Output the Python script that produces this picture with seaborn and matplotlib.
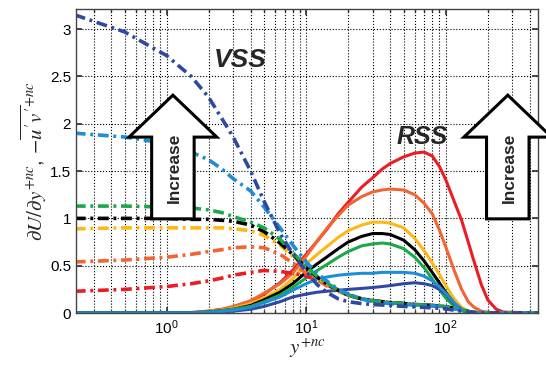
import matplotlib
matplotlib.use("Agg")
import matplotlib.pyplot as plt
from matplotlib.patches import FancyArrow
import numpy as np
import pandas as pd
import seaborn as sns

###################################
# colours of the seven cases
red = "#ec1c24"
orange = "#f26531"
gold = "#fdb813"
black = "#000000"
green = "#1aa94a"
lblue = "#1c8dd6"
dblue = "#2e4aa0"
####################################

# common y+nc sampling
yp = [0.22, 0.5, 1, 1.5, 2, 2.5, 3, 4, 5, 6.5, 8, 10, 12, 14, 17, 20, 25, 30,
      35, 40, 50, 60, 70, 80, 90, 100, 115, 130, 145, 160, 180, 200, 230, 260, 460]

# RSS  (-u'v'+nc), solid
rss_red = [0, 0, 0, 0.005, 0.02, 0.04, 0.06, 0.12, 0.20, 0.32, 0.45, 0.62, 0.76,
           0.88, 1.05, 1.17, 1.33, 1.43, 1.52, 1.58, 1.65, 1.69, 1.70, 1.66, 1.55,
           1.41, 1.18, 0.98, 0.75, 0.54, 0.30, 0.14, 0.04, 0.01, 0]
rss_orange = [0, 0, 0, 0.005, 0.02, 0.04, 0.07, 0.13, 0.21, 0.31, 0.42, 0.60, 0.76,
              0.89, 1.03, 1.14, 1.23, 1.28, 1.30, 1.31, 1.30, 1.25, 1.16, 1.05, 0.88,
              0.70, 0.45, 0.25, 0.12, 0.06, 0.02, 0.01, 0, 0, 0]
rss_gold = [0, 0, 0, 0.004, 0.015, 0.03, 0.05, 0.10, 0.16, 0.25, 0.36, 0.52, 0.62,
            0.70, 0.80, 0.87, 0.93, 0.96, 0.96, 0.95, 0.90, 0.79, 0.66, 0.53, 0.41,
            0.29, 0.15, 0.06, 0.02, 0.01, 0, 0, 0, 0, 0]
rss_black = [0, 0, 0, 0.003, 0.012, 0.025, 0.04, 0.08, 0.14, 0.22, 0.31, 0.43, 0.52,
             0.59, 0.68, 0.75, 0.81, 0.84, 0.84, 0.83, 0.77, 0.67, 0.55, 0.43, 0.32,
             0.22, 0.10, 0.03, 0.01, 0, 0, 0, 0, 0, 0]
rss_green = [0, 0, 0, 0.003, 0.012, 0.025, 0.04, 0.07, 0.12, 0.19, 0.27, 0.37, 0.45,
             0.51, 0.59, 0.65, 0.71, 0.73, 0.74, 0.73, 0.68, 0.59, 0.48, 0.36, 0.25,
             0.16, 0.07, 0.03, 0.01, 0, 0, 0, 0, 0, 0]
rss_lblue = [0, 0, 0, 0.002, 0.008, 0.018, 0.03, 0.06, 0.11, 0.17, 0.24, 0.31, 0.36,
             0.38, 0.40, 0.41, 0.42, 0.42, 0.43, 0.43, 0.43, 0.42, 0.39, 0.34, 0.28,
             0.21, 0.11, 0.04, 0.02, 0.01, 0, 0, 0, 0, 0]
rss_dblue = [0, 0, 0, 0.002, 0.006, 0.012, 0.02, 0.04, 0.07, 0.12, 0.17, 0.20, 0.22,
             0.23, 0.24, 0.25, 0.26, 0.27, 0.28, 0.29, 0.31, 0.32, 0.31, 0.29, 0.25,
             0.20, 0.10, 0.04, 0.01, 0, 0, 0, 0, 0, 0]

# VSS  (dU/dy+nc), dash-dot
vss_dblue = [3.15, 2.97, 2.72, 2.50, 2.28, 2.05, 1.86, 1.50, 1.18, 0.84, 0.63, 0.44,
             0.30, 0.22, 0.15, 0.12, 0.10, 0.09, 0.085, 0.08, 0.07, 0.065, 0.06,
             0.055, 0.05, 0.045, 0.03, 0.02, 0.01, 0.005, 0, 0, 0, 0, 0]
vss_lblue = [1.90, 1.86, 1.79, 1.70, 1.62, 1.52, 1.42, 1.29, 1.12, 0.90, 0.72, 0.54,
             0.42, 0.34, 0.25, 0.20, 0.15, 0.12, 0.11, 0.10, 0.09, 0.085, 0.08,
             0.075, 0.07, 0.06, 0.045, 0.03, 0.015, 0.005, 0, 0, 0, 0, 0]
vss_green = [1.13, 1.13, 1.12, 1.11, 1.09, 1.06, 1.02, 0.96, 0.90, 0.78, 0.64, 0.49,
             0.39, 0.32, 0.24, 0.19, 0.15, 0.13, 0.12, 0.11, 0.10, 0.09, 0.085,
             0.08, 0.075, 0.065, 0.05, 0.03, 0.015, 0.005, 0, 0, 0, 0, 0]
vss_black = [1.0, 1.0, 1.0, 0.99, 0.99, 0.98, 0.97, 0.93, 0.86, 0.74, 0.62, 0.48,
             0.38, 0.31, 0.24, 0.19, 0.15, 0.13, 0.12, 0.11, 0.10, 0.09, 0.085,
             0.08, 0.075, 0.065, 0.05, 0.03, 0.015, 0.005, 0, 0, 0, 0, 0]
vss_gold = [0.89, 0.90, 0.90, 0.90, 0.90, 0.90, 0.89, 0.87, 0.82, 0.72, 0.60, 0.47,
            0.38, 0.31, 0.24, 0.19, 0.15, 0.13, 0.12, 0.11, 0.10, 0.09, 0.085,
            0.08, 0.075, 0.065, 0.05, 0.03, 0.015, 0.005, 0, 0, 0, 0, 0]
vss_orange = [0.54, 0.56, 0.59, 0.62, 0.65, 0.67, 0.69, 0.70, 0.69, 0.62, 0.53, 0.42,
              0.35, 0.29, 0.23, 0.19, 0.15, 0.13, 0.12, 0.11, 0.10, 0.09, 0.085,
              0.08, 0.075, 0.065, 0.05, 0.03, 0.015, 0.005, 0, 0, 0, 0, 0]
vss_red = [0.23, 0.25, 0.28, 0.31, 0.34, 0.37, 0.40, 0.43, 0.45, 0.44, 0.42, 0.39,
           0.35, 0.30, 0.24, 0.19, 0.15, 0.13, 0.12, 0.11, 0.10, 0.09, 0.085,
           0.08, 0.075, 0.065, 0.05, 0.03, 0.015, 0.005, 0, 0, 0, 0, 0]

rss = [(rss_red, red), (rss_orange, orange), (rss_gold, gold),
       (rss_black, black), (rss_green, green), (rss_dblue, dblue),
       (rss_lblue, lblue)]
vss = [(vss_red, red), (vss_orange, orange), (vss_gold, gold),
       (vss_black, black), (vss_green, green), (vss_lblue, lblue),
       (vss_dblue, dblue)]

sns.set_theme(style="ticks")
plt.rcParams['font.family'] = ['Liberation Sans', 'DejaVu Sans']
plt.rcParams['mathtext.fontset'] = 'custom'
plt.rcParams['mathtext.rm'] = 'Liberation Sans'
plt.rcParams['mathtext.it'] = 'Liberation Sans:italic'

fig = plt.figure(figsize=(5.46, 3.67), dpi=100)
ax = fig.add_axes([0.139, 0.147, 0.846, 0.828])

for vals, c in rss:
    sns.lineplot(x=yp, y=vals, ax=ax, color=c, lw=2.2, sort=False)
for vals, c in vss:
    sns.lineplot(x=yp, y=vals, ax=ax, color=c, lw=2.6, sort=False,
                 linestyle=(0, (3, 1.3, 0.8, 1.3)))
for ln in ax.lines:
    ln.set_solid_joinstyle('round')

ax.set_xscale('log')
ax.set_xlim(0.224, 457)
ax.set_ylim(0, 3.21)
ax.set_yticks([0, 0.5, 1, 1.5, 2, 2.5, 3])
ax.set_yticklabels(['0', '0.5', '1', '1.5', '2', '2.5', '3'])
ax.grid(True, which='major', color='black', ls=':', lw=0.8)
ax.grid(True, which='minor', axis='x', color='black', ls=':', lw=0.8)
ax.tick_params(which='both', direction='in', top=True, right=True,
               labelsize=11, colors='#333333', labelcolor='black')
ax.tick_params(which='major', length=4)
ax.tick_params(which='minor', length=2)
for s in ax.spines.values():
    s.set_color('#444444')
    s.set_linewidth(1)

ax.set_xlabel(r'$y^{+nc}$', fontsize=15, math_fontfamily='stix', labelpad=0)
ax.set_ylabel(r"$\partial U/\partial y^{+nc}$, $-\overline{u'v'}^{+nc}$",
              fontsize=15, math_fontfamily='stix', labelpad=1)

# hollow "Increase" arrows
for xc in [0.210, 0.935]:
    ax.add_patch(FancyArrow(xc, 0.31, 0, 0.407, width=0.092, head_width=0.19,
                            head_length=0.138, length_includes_head=True,
                            fc='white', ec='black', lw=2.2,
                            transform=ax.transAxes, clip_on=False, zorder=5))
ax.text(0.213, 0.477, 'Increase', rotation=90, fontsize=12.5, fontweight='bold',
        ha='center', va='center', transform=ax.transAxes, zorder=6)
ax.text(0.938, 0.477, 'Increase', rotation=90, fontsize=12.5, fontweight='bold',
        ha='center', va='center', transform=ax.transAxes, zorder=6)

ax.text(0.355, 0.832, 'VSS', fontsize=19, fontweight='bold', style='italic',
        ha='center', va='center', transform=ax.transAxes)
ax.text(0.749, 0.579, 'RSS', fontsize=18, fontweight='bold', style='italic',
        ha='center', va='center', transform=ax.transAxes)

plt.savefig('out.png', dpi=100)
